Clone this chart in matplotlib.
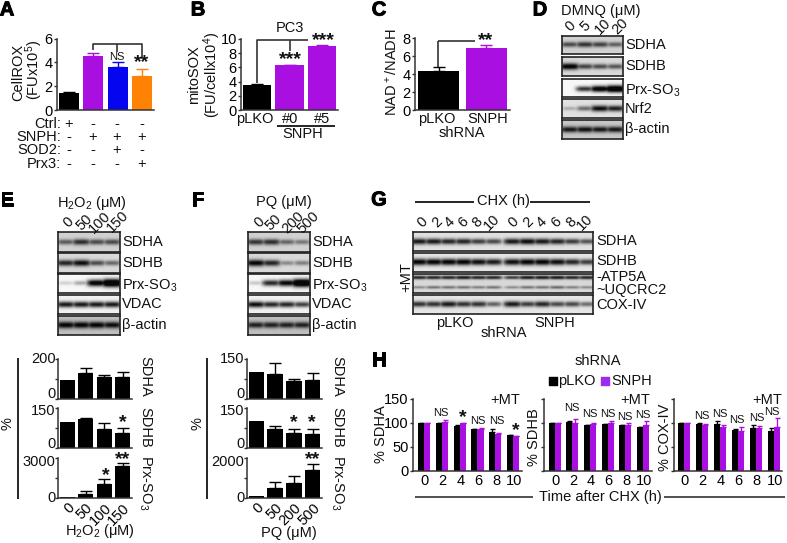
import numpy as np
import matplotlib
matplotlib.use("Agg")
import matplotlib.pyplot as plt
import matplotlib.patheffects as pe

plt.rcParams['font.family'] = ['Liberation Sans', 'DejaVu Sans']
plt.rcParams['mathtext.fontset'] = 'custom'
plt.rcParams['mathtext.rm'] = 'Liberation Sans'
plt.rcParams['mathtext.default'] = 'regular'

W, H = 787, 543
PURPLE = '#A90FE0'
LEG_PURPLE = '#9A2CF0'
BLUE = '#0505F0'
ORANGE = '#FF8205'
DARK = '#333333'
FS = 10.5

# panel A
a_vals = [1.45, 4.5, 3.65, 2.85]
a_tops = [1.55, 4.8, 4.0, 3.45]
a_rows = ['Ctrl:', 'SNPH:', 'SOD2:', 'Prx3:']
a_signs = [['+', '-', '-', '-'], ['-', '+', '+', '+'], ['-', '-', '+', '-'], ['-', '-', '-', '+']]
# panel B
b_vals = [3.5, 6.3, 9.0]
b_tops = [3.65, 6.4, 9.1]
b_labels = ['pLKO', '#0', '#5']
# panel C
c_vals = [4.3, 6.9]
c_tops = [4.8, 7.25]
c_labels = ['pLKO', 'SNPH']

# panel D blots, band strength per lane
d_doses = ['0', '5', '10', '20']
d_sdha = [0.62, 0.72, 0.66, 0.52]
d_sdhb = [1.0, 0.66, 0.62, 0.58]
d_prx = [0.0, 0.75, 1.05, 1.25]
d_nrf2 = [0.22, 0.5, 0.9, 0.82]
d_actin = [0.85, 0.88, 0.85, 0.85]
# panel E blots
e_doses = ['0', '50', '100', '150']
e_sdha = [0.55, 0.75, 0.62, 0.62]
e_sdhb = [0.8, 0.9, 0.62, 0.5]
e_prx = [0.15, 0.3, 1.0, 1.3]
e_vdac = [0.85, 0.85, 0.85, 0.85]
e_actin = [0.95, 0.95, 0.95, 0.9]
# panel F blots
f_doses = ['0', '50', '200', '500']
f_sdha = [0.72, 0.75, 0.5, 0.42]
f_sdhb = [0.95, 0.8, 0.35, 0.4]
f_prx = [0.18, 0.8, 0.95, 1.3]
f_vdac = [0.9, 0.8, 0.8, 0.7]
f_actin = [0.8, 0.8, 0.8, 0.8]
# panel G blots
g_hours = ['0', '2', '4', '6', '8', '10', '0', '2', '4', '6', '8', '10']
g_sdha = [0.85, 0.85, 0.8, 0.8, 0.7, 0.65, 0.85, 0.9, 0.85, 0.8, 0.7, 0.6]
g_sdhb = [0.95, 0.95, 0.95, 0.95, 0.9, 0.85, 0.9, 0.95, 0.95, 0.9, 0.8, 0.7]
g_atp = [0.8, 0.8, 0.8, 0.85, 0.8, 0.8, 0.7, 0.85, 0.85, 0.85, 0.8, 0.8]
g_uqcrc = [0.35, 0.45, 0.45, 0.45, 0.4, 0.45, 0.35, 0.45, 0.45, 0.5, 0.4, 0.35]
g_cox = [0.75, 0.75, 0.85, 0.75, 0.75, 0.55, 0.85, 0.7, 0.8, 0.65, 0.65, 0.5]

# panel E quantification
e1_vals = [95, 130, 110, 112]
e1_tops = [95, 155, 120, 135]
e2_vals = [97, 107, 72, 58]
e2_tops = [97, 113, 95, 75]
e3_vals = [50, 300, 1050, 2400]
e3_tops = [50, 500, 1450, 2650]
# panel F quantification
f1_vals = [100, 92, 68, 72]
f1_tops = [100, 135, 75, 97]
f2_vals = [100, 73, 55, 53]
f2_tops = [100, 83, 73, 72]
f3_vals = [80, 520, 730, 1420]
f3_tops = [80, 820, 1080, 1720]

# panel H
h_hours = ['0', '2', '4', '6', '8', '10']
h1_plko = [100, 100, 94, 87, 82, 75]
h1_plko_err = [0, 1, 1, 1, 5, 1]
h1_snph = [100, 103, 99, 88, 78, 72]
h1_snph_err = [0, 3, 1, 1, 2, 1]
h2_plko = [100, 103, 95, 97, 95, 91]
h2_plko_err = [0, 1, 1, 1, 1, 1]
h2_snph = [100, 99, 98, 99, 95, 95]
h2_snph_err = [0, 10, 2, 5, 6, 10]
h3_plko = [100, 97, 97, 86, 90, 84]
h3_plko_err = [0, 3, 7, 2, 6, 5]
h3_snph = [100, 95, 91, 84, 89, 91]
h3_snph_err = [0, 2, 5, 7, 5, 20]

fig = plt.figure(figsize=(W / 100, H / 100), dpi=100)

ov = fig.add_axes([0, 0, 1, 1], zorder=10)
ov.set_xlim(0, W)
ov.set_ylim(H, 0)
ov.axis('off')


def T(x, y, s, fs=FS, **kw):
    kw.setdefault('ha', 'center')
    kw.setdefault('va', 'center')
    return ov.text(x, y, s, fontsize=fs, color='#111111', **kw)


def star(x, y, s):
    T(x, y, s, fs=14, fontweight='bold')


def L(xs, ys, lw=1.2, c='#333333'):
    ov.plot(xs, ys, color=c, lw=lw, solid_capstyle='butt')


def axes_px(x0, x1, top, bottom):
    return fig.add_axes([x0 / W, 1 - bottom / H, (x1 - x0) / W, (bottom - top) / H])


def style(ax, ymax, ticks, labels):
    ax.set_ylim(0, ymax)
    ax.set_yticks(ticks)
    ax.set_yticklabels(labels, fontsize=FS)
    ax.tick_params(axis='y', length=2.5, width=1, pad=0.5, color=DARK)
    ax.tick_params(axis='x', length=0, pad=2)
    for s in ['top', 'right']:
        ax.spines[s].set_visible(False)
    for s in ['left', 'bottom']:
        ax.spines[s].set_linewidth(1.1)
        ax.spines[s].set_color(DARK)


def bars(ax, vals, tops, colors, width=0.82):
    x = np.arange(len(vals))
    up = np.array(tops) - np.array(vals)
    ax.bar(x, vals, width=width, color=colors, zorder=2)
    for i in x:
        c = colors[i] if isinstance(colors, list) else colors
        if up[i] > 0:
            ax.errorbar(i, vals[i], yerr=[[0], [up[i]]], color=c, capsize=4, lw=1, capthick=1, zorder=1)
    ax.set_xlim(-0.5, len(vals) - 0.5)
    ax.set_xticks([])


def blot(box, rows, n, gap=None):
    # rows: (top, bottom, bands, background), bands: list of (center fraction, strengths)
    x0, x1 = box
    for (top, bottom, bands, level) in rows:
        ax = axes_px(x0, x1, top, bottom)
        nx, ny = 160, 50
        xx = np.linspace(0, 1, nx)
        yy = np.linspace(0, 1, ny)
        img = np.zeros((ny, nx))
        centers = (np.arange(n) + 0.5) / n
        if gap:
            centers = centers + np.where(np.arange(n) >= n // 2, gap, -gap)
        narrow = 0.6 if len(bands) > 1 else 1.0
        for yc, strengths in bands:
            for cx, s in zip(centers, strengths):
                if s <= 0:
                    continue
                sx = 0.62 / n * (0.75 + 0.3 * s)
                sy = narrow * 0.12 * (0.7 + 0.75 * s)
                prof = np.exp(-((xx - cx) / sx) ** 4)[None, :] * np.exp(-((yy - yc) / sy) ** 2)[:, None]
                img = np.maximum(img, s * prof)
        ax.imshow(level * (1 - np.clip(img * 1.1, 0, 1) * 0.97), cmap='gray', vmin=0, vmax=1,
                  aspect='auto', extent=(0, 1, 1, 0), interpolation='bilinear')
        ax.set_xticks([])
        ax.set_yticks([])
        for s in ax.spines.values():
            s.set_linewidth(1.2)
            s.set_color('#222222')


def tilted(xs, y, labels, fs=FS):
    for x, s in zip(xs, labels):
        T(x, y, s, fs=fs, rotation=45)


# panel letters
for s, x, y in [('A', 7, 10), ('B', 198, 10), ('C', 379, 10), ('D', 540, 10),
                ('E', 7, 200), ('F', 198, 200), ('G', 379, 200), ('H', 379, 360)]:
    txt = T(x, y, s, fs=14.5, fontweight='bold')
    txt.set_color('black')
    txt.set_path_effects([pe.withStroke(linewidth=0.7, foreground='black')])

# A
ax = axes_px(57, 154, 38.5, 110)
bars(ax, a_vals, a_tops, ['black', PURPLE, BLUE, ORANGE])
style(ax, 6, [0, 2, 4, 6], ['0', '2', '4', '6'])
T(18, 72, 'CellROX', rotation=90)
T(34, 70, '(FUx10$^5$)', rotation=90)
L([93, 93, 142, 142], [50, 44, 44, 57])
L([117, 117], [44, 52])
T(117, 57, 'NS', fs=8)
star(142, 63, '**')
for row_y, name, signs in zip([124, 137, 150, 164], a_rows, a_signs):
    T(61, row_y, name, ha='right')
    for x, s in zip([69, 93, 117, 142], signs):
        T(x, row_y, s)

# B
ax = axes_px(241, 338, 39, 110)
bars(ax, b_vals, b_tops, ['black', PURPLE, PURPLE], width=0.88)
style(ax, 10, [0, 2, 4, 6, 8, 10], ['0', '2', '4', '6', '8', '10'])
T(194, 75, 'mitoSOX', rotation=90)
T(212, 75, '(FU/cellx10$^4$)', rotation=90)
L([257, 257, 308], [83, 39.5, 39.5])
L([290, 290], [39.5, 51])
T(290, 28, 'PC3')
star(290, 60, '***')
star(323, 41, '***')
for x, s in zip([255, 290, 322], b_labels):
    T(x, 119, s)
L([277, 335], [126, 126], c='black')
T(303, 134, 'SNPH')

# C
ax = axes_px(415, 510, 38, 110)
bars(ax, c_vals, c_tops, ['black', PURPLE], width=0.86)
style(ax, 8, [0, 2, 4, 6, 8], ['0', '2', '4', '6', '8'])
T(392, 72, 'NAD$^+$/NADH', rotation=90)
L([438, 438], [67, 41])
L([438, 475], [41, 41])
star(486, 41, '**')
for x, s in zip([437, 488], c_labels):
    T(x, 119, s)
T(462, 133, 'shRNA')

# D
blot((562, 623), [(36, 54, [(0.5, d_sdha)], 0.82), (57, 76, [(0.5, d_sdhb)], 0.85),
                  (79, 97, [(0.55, d_prx)], 0.97), (99, 118, [(0.5, d_nrf2)], 0.88),
                  (120, 139, [(0.5, d_actin)], 0.78)], 4)
T(601, 11, 'DMNQ (μM)')
tilted([570, 585, 603, 620], 26, d_doses)
for y, s in zip([45, 66, 91, 109, 129], ['SDHA', 'SDHB', 'Prx-SO$_3$', 'Nrf2', 'β-actin']):
    T(625, y, s, ha='left')

# E and F blots
rows_y = [(232, 252), (253, 273), (274, 293), (295, 314), (316, 335)]
names = ['SDHA', 'SDHB', 'Prx-SO$_3$', 'VDAC', 'β-actin']
for box, sets, lab_x in [((58, 120), [e_sdha, e_sdhb, e_prx, e_vdac, e_actin], 122),
                         ((248, 310), [f_sdha, f_sdhb, f_prx, f_vdac, f_actin], 312)]:
    levels = [0.82, 0.85, 0.97, 0.95, 0.75]
    blot(box, [(t, b, [(0.5, s)], lv) for (t, b), s, lv in zip(rows_y, sets, levels)], 4)
    for (t, b), s in zip(rows_y, names):
        T(lab_x, (t + b) / 2 + (2 if 'Prx' in s else 0), s, ha='left')
T(92, 203, 'H$_2$O$_2$ (μM)')
tilted([68, 84, 100, 118], 222, e_doses)
T(284, 202, 'PQ (μM)')
tilted([259, 273, 293, 308], 222, f_doses)

# E and F bars
for x0, x1, name_x, sets, line_x in [
        (58, 132, 145, [(e1_vals, e1_tops, 200, '200'), (e2_vals, e2_tops, 150, '150'),
                        (e3_vals, e3_tops, 3000, '3000')], 18),
        (247, 322, 337, [(f1_vals, f1_tops, 150, '150'), (f2_vals, f2_tops, 150, '150'),
                         (f3_vals, f3_tops, 2000, '2000')], 207)]:
    tops_y = [(359, 399), (408, 448), (458, 498)]
    top_lab_y = [359, 411, 462]
    zero_lab_y = [394, 444, 498]
    for i, ((t, b), (v, up, ymax, lab)) in enumerate(zip(tops_y, sets)):
        ax = axes_px(x0, x1, t, b)
        bars(ax, v, up, 'black')
        style(ax, ymax, [0, ymax / 2, ymax], ['', '', ''])
        T(x0 - 2.5, top_lab_y[i], lab, ha='right')
        T(x0 - 2.5, zero_lab_y[i], '0', ha='right')
        if i == 2:
            doses = e_doses if x0 == 58 else f_doses
            ax.set_xticks(np.arange(4))
            ax.set_xticklabels(doses, rotation=45, ha='right', rotation_mode='anchor', fontsize=FS)
    L([line_x, line_x], [358, 499], c='black')
    T(line_x - 10, 424, '%', rotation=90)
    T(name_x, 376, 'SDHA', rotation=-90)
    T(name_x, 427, 'SDHB', rotation=-90)
    T(name_x, 483, 'Prx-SO$_3$', rotation=-90)
T(100, 531, 'H$_2$O$_2$ (μM)')
T(289, 533, 'PQ (μM)')
star(123, 423, '*')
star(105.5, 476, '*')
star(123, 460, '**')
star(294, 423, '*')
star(312, 423, '*')
star(313, 460, '**')

# G
g_rows = [(232, 251, [(0.5, g_sdha)], 0.88), (253, 272, [(0.5, g_sdhb)], 0.9),
          (274, 293, [(0.22, g_atp), (0.72, g_uqcrc)], 0.85), (295, 314, [(0.48, g_cox)], 0.9)]
blot((413, 593), g_rows, 12, gap=0.012)
L([415, 474], [202, 202], c='black')
L([530, 590], [202, 202], c='black')
T(503, 201, 'CHX (h)')
tilted([422, 437, 450, 463, 477, 492, 513, 528, 542, 556, 571, 585], 222, g_hours)
T(406, 277, '+MT', rotation=90)
for y, s in [(241, 'SDHA'), (261, 'SDHB'), (277, '-ATP5A'), (290, '~UQCRC2'), (305, 'COX-IV')]:
    T(596, y, s, ha='left')
T(455, 323, 'pLKO')
T(555, 323, 'SNPH')
T(504, 333, 'shRNA')

# H
for x0, x1, xlim, pl, ple, sn, sne in [
        (413, 522, (-0.62, 5.5), h1_plko, h1_plko_err, h1_snph, h1_snph_err),
        (544, 652, (-0.6, 5.5), h2_plko, h2_plko_err, h2_snph, h2_snph_err),
        (674, 782, (-0.55, 5.45), h3_plko, h3_plko_err, h3_snph, h3_snph_err)]:
    ax = axes_px(x0, x1, 399, 471)
    x = np.arange(6)
    w = 0.34
    ax.bar(x - w / 2, pl, w, color='black', zorder=2)
    ax.bar(x + w / 2, sn, w, color=PURPLE, zorder=2)
    ax.errorbar(x - w / 2, pl, yerr=[np.zeros(6), ple], fmt='none', ecolor='black', capsize=1.8, lw=0.9, zorder=1)
    ax.errorbar(x + w / 2, sn, yerr=[np.zeros(6), sne], fmt='none', ecolor=PURPLE, capsize=1.8, lw=0.9, zorder=1)
    ax.set_xlim(*xlim)
    labs = ['0', '50', '100', '150'] if x0 == 413 else ['', '', '', '']
    style(ax, 150, [0, 50, 100, 150], labs)
    ax.set_xticks(x + 0.05)
    ax.set_xticklabels(h_hours, fontsize=FS)
T(381, 434, '% SDHA', rotation=90)
T(534, 437, '% SDHB', rotation=90)
T(665, 437, '% COX-IV', rotation=90)
for x in [505, 635, 767]:
    T(x, 400, '+MT')
T(598, 361, 'shRNA')
ov.scatter([553], [381], marker='s', s=36, color='black')
T(558, 381, 'pLKO', ha='left')
ov.scatter([605], [381], marker='s', s=36, color=LEG_PURPLE)
T(611, 381, 'SNPH', ha='left')
for x, y in [(441, 413), (478, 421), (497, 421), (572, 408), (590, 414), (608, 414), (625, 417),
             (643, 415), (702, 416), (720, 414), (737, 420), (757, 418), (772, 412)]:
    T(x, y, 'NS', fs=8)
star(463, 418, '*')
star(516, 431, '*')
T(600, 497, 'Time after CHX (h)')
L([415, 533], [497, 497])
L([664, 785], [497, 497])

fig.savefig('out.png', dpi=100)
